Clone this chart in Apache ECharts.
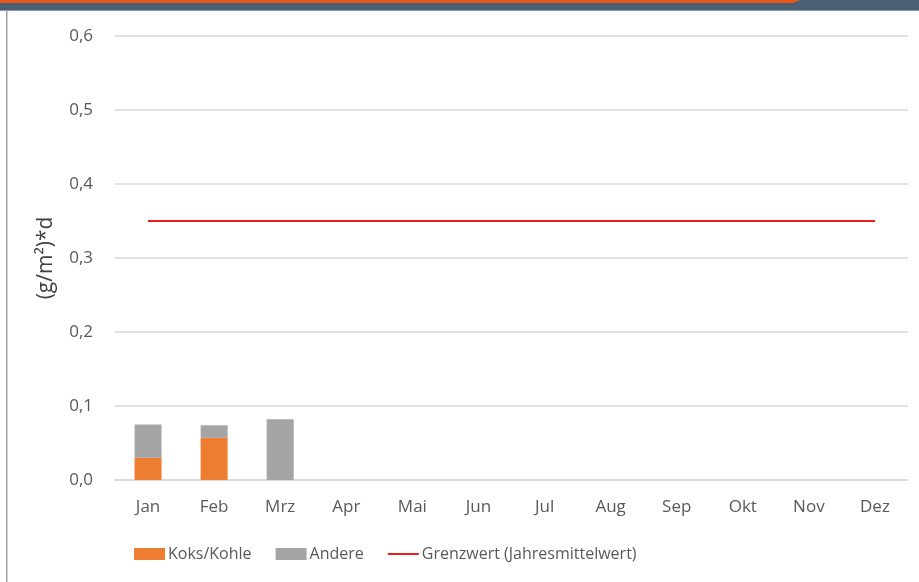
<!DOCTYPE html>
<html>
<head>
<meta charset="utf-8">
<script src="https://cdn.jsdelivr.net/npm/echarts@6/dist/echarts.min.js"></script>
<style>
  html, body { margin: 0; padding: 0; background: #fff; }
  #main { width: 919px; height: 582px; }
</style>
</head>
<body>
<div id="main"></div>
<script>
// Monate und Werte (g/m²)*d
const months = ['Jan', 'Feb', 'Mrz', 'Apr', 'Mai', 'Jun', 'Jul', 'Aug', 'Sep', 'Okt', 'Nov', 'Dez'];
const koksKohle = [0.030, 0.057, 0, null, null, null, null, null, null, null, null, null];
const andere = [0.045, 0.017, 0.082, null, null, null, null, null, null, null, null, null];
const grenzwert = [0.35, 0.35, 0.35, 0.35, 0.35, 0.35, 0.35, 0.35, 0.35, 0.35, 0.35, 0.35];

const font = '"Open Sans", sans-serif';
const myChart = echarts.init(document.getElementById('main'));
myChart.setOption({
  backgroundColor: '#fff',
  textStyle: { fontFamily: font },
  graphic: [
    // Kopfbalken
    { type: 'rect', left: 0, top: 0, shape: { width: 919, height: 10 }, style: { fill: '#4a6072' }, z: 10 },
    { type: 'polygon', shape: { points: [[0, 0], [800, 0], [793, 3], [0, 3]] }, style: { fill: '#e8561a' }, z: 11 },
    { type: 'rect', left: 0, top: 10, shape: { width: 919, height: 1 }, style: { fill: '#8a9aa6' }, z: 10 },
    // linker Rand
    { type: 'rect', left: 6, top: 10, shape: { width: 1.5, height: 572 }, style: { fill: '#a0a0a0' }, z: 10 }
  ],
  grid: { left: 115, right: 11, top: 36, bottom: 102 },
  legend: {
    left: 129,
    top: 541,
    itemWidth: 31,
    itemHeight: 12,
    itemGap: 24,
    textStyle: { fontSize: 16, color: '#595959', fontFamily: font, padding: [0, 0, 0, -2] },
    data: [
      { name: 'Koks/Kohle', icon: 'rect' },
      { name: 'Andere', icon: 'rect' },
      { name: 'Grenzwert (Jahresmittelwert)', icon: 'path://M0,-5L0,7M0,0L32,0L32,2L0,2Z', itemStyle: { color: '#ee1c1c' } }
    ]
  },
  xAxis: {
    type: 'category',
    data: months,
    axisLine: { lineStyle: { color: '#d9d9d9', width: 1.5 } },
    axisTick: { show: false },
    axisLabel: { color: '#595959', fontSize: 17, margin: 19, fontFamily: font }
  },
  yAxis: {
    type: 'value',
    min: 0,
    max: 0.6,
    interval: 0.1,
    name: '(g/m²)*d',
    nameLocation: 'middle',
    nameGap: 58,
    nameTextStyle: { color: '#404040', fontSize: 21, fontFamily: font },
    axisLine: { show: false },
    axisTick: { show: false },
    splitLine: { lineStyle: { color: '#d9d9d9', width: 1.5 } },
    axisLabel: {
      color: '#595959', fontSize: 17, margin: 22, fontFamily: font,
      formatter: v => v.toFixed(1).replace('.', ',')
    }
  },
  series: [
    {
      name: 'Koks/Kohle',
      type: 'bar',
      stack: 'total',
      barWidth: 27,
      itemStyle: { color: '#ed7d31' },
      data: koksKohle
    },
    {
      name: 'Andere',
      type: 'bar',
      stack: 'total',
      barWidth: 27,
      itemStyle: { color: '#a5a5a5' },
      data: andere
    },
    {
      name: 'Grenzwert (Jahresmittelwert)',
      type: 'line',
      symbol: 'none',
      itemStyle: { color: '#ee1c1c' },
      lineStyle: { color: '#ee1c1c', width: 2 },
      data: grenzwert
    }
  ]
});
</script>
</body>
</html>
